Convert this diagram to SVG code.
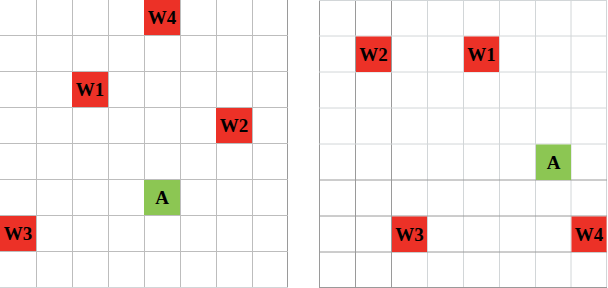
<svg xmlns="http://www.w3.org/2000/svg" width="608" height="288" viewBox="0 0 608 288">
<style>
.g{stroke:#bdbdbd;stroke-width:1;fill:none}
.d{stroke:#9a9a9a;stroke-width:1;fill:none}
.l{stroke:#d2d6d8;stroke-width:1;fill:none}
.w{fill:#ec3127}
.a{fill:#8cc653}
.t{font-family:"Liberation Serif","Times New Roman",serif;font-weight:bold;font-size:19px;fill:#000;text-anchor:middle}
</style>
<rect width="608" height="288" fill="#fff"/>
<g id="grid-left">
<path class="g" d="M36.5 0V288M72.5 0V288M108.5 0V288M144.5 0V288M180.5 0V288M216.5 0V288M252.5 0V288"/>
<path class="d" d="M287.5 0V288"/>
<path class="g" d="M0 35.5H288M0 71.5H288M0 107.5H288M0 143.5H288M0 179.5H288M0 215.5H288M0 251.5H288"/>
<path class="l" d="M0 287.5H288"/>
</g>
<g id="grid-right">
<path class="d" d="M319.5 0V288M355.5 0V288M391.5 0V288"/>
<path class="l" d="M427.5 0V288M463.5 0V288M499.5 0V288M535.5 0V288M571 0V288M606.5 0V288"/>
<path class="l" d="M319 0.5H607M319 36H607M319 72H607M319 108H607M319 144H607"/>
<path class="d" d="M319 180H607M319 216H607M319 252H607M319 287.5H607"/>
</g>
<g id="L-W4"><rect class="w" x="144" y="0" width="36" height="35"/><text class="t" x="162" y="24">W4</text></g>
<g id="L-W1"><rect class="w" x="72" y="72" width="36" height="35"/><text class="t" x="90" y="96">W1</text></g>
<g id="L-W2"><rect class="w" x="216" y="108" width="36" height="35"/><text class="t" x="234" y="132">W2</text></g>
<g id="L-A"><rect class="a" x="144" y="180" width="36" height="35"/><text class="t" x="162" y="204">A</text></g>
<g id="L-W3"><rect class="w" x="0" y="216" width="36" height="35"/><text class="t" x="18" y="240">W3</text></g>
<g id="R-W2"><rect class="w" x="356" y="36.5" width="35" height="35.5"/><text class="t" x="373.5" y="60.5">W2</text></g>
<g id="R-W1"><rect class="w" x="464" y="36.5" width="35" height="35.5"/><text class="t" x="481.5" y="60.5">W1</text></g>
<g id="R-A"><rect class="a" x="536" y="144.5" width="35" height="35.5"/><text class="t" x="553.5" y="168.5">A</text></g>
<g id="R-W3"><rect class="w" x="392" y="216.5" width="35" height="35.5"/><text class="t" x="409.5" y="240.5">W3</text></g>
<g id="R-W4"><rect class="w" x="571.5" y="216.5" width="35" height="35.5"/><text class="t" x="589" y="240.5">W4</text></g>
</svg>
